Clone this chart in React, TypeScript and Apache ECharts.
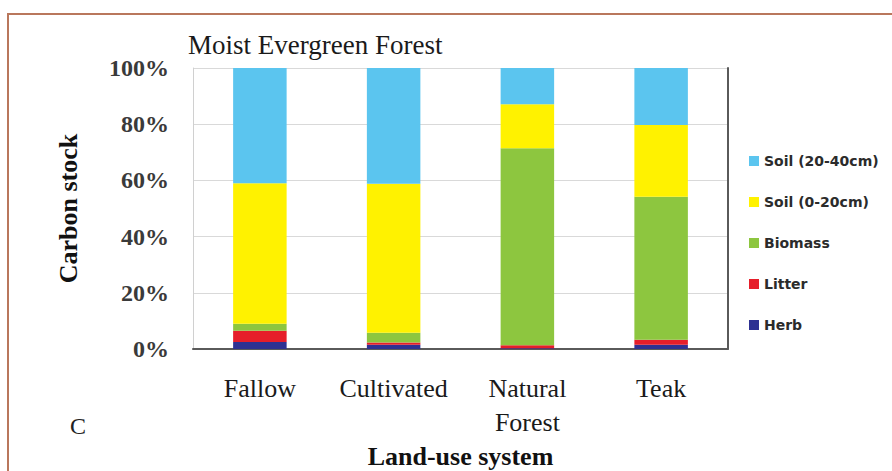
import React, { useEffect, useRef } from "react";
import * as echarts from "echarts";

const categories = ["Fallow", "Cultivated", "Natural\nForest", "Teak"];
const herb = [2.5, 1.5, 0.3, 1.5];
const litter = [4.0, 0.8, 1.0, 1.8];
const biomass = [2.5, 3.5, 70.1, 50.9];
const soil0to20 = [50.0, 53.0, 15.7, 25.5];
const soil20to40 = [41.0, 41.2, 12.9, 20.3];
const yTicks = [0, 20, 40, 60, 80, 100];

const seriesNames = ["Herb", "Litter", "Biomass", "Soil (0-20cm)", "Soil (20-40cm)"];
const seriesData = [herb, litter, biomass, soil0to20, soil20to40];
const seriesColors = ["#2e3192", "#e61e2a", "#8dc63f", "#fff200", "#5bc5ef"];

const SERIF = "'Liberation Serif', 'Times New Roman', serif";

export default function App() {
  const ref = useRef<HTMLDivElement>(null);
  useEffect(() => {
    if (!ref.current) return;
    const chart = echarts.init(ref.current, null, { renderer: "svg" });
    chart.setOption({
      animation: false,
      backgroundColor: "#ffffff",
      title: {
        text: "Moist Evergreen Forest",
        left: 188,
        top: 31,
        padding: 0,
        textStyle: { fontFamily: SERIF, fontSize: 27, fontWeight: "normal", color: "#1a1a1a" },
      },
      legend: {
        orient: "vertical",
        left: 744,
        top: 148,
        itemWidth: 10,
        itemHeight: 10,
        itemGap: 25,
        icon: "rect",
        data: [...seriesNames].reverse(),
        textStyle: {
          fontFamily: "'DejaVu Sans', sans-serif",
          fontWeight: "bold",
          fontSize: 14,
          lineHeight: 16,
          color: "#2b2b2b",
        },
      },
      grid: {
        left: 193,
        right: 164,
        top: 68,
        bottom: 122,
        containLabel: false,
        outerBoundsMode: "none",
      },
      xAxis: [
        {
          type: "category",
          data: categories,
          axisTick: { show: false },
          axisLine: { show: true, lineStyle: { color: "#d0d0d0", width: 1 } },
          axisLabel: {
            interval: 0,
            margin: 22,
            fontFamily: SERIF,
            fontSize: 26,
            lineHeight: 34,
            color: "#1a1a1a",
          },
          name: "Land-use system",
          nameLocation: "middle",
          nameGap: 89,
          nameTextStyle: { fontFamily: SERIF, fontSize: 26, fontWeight: "bold", color: "#111" },
        },
        {
          type: "category",
          position: "top",
          data: categories,
          axisTick: { show: false },
          axisLabel: { show: false },
          axisLine: { show: true, lineStyle: { color: "#5a5a5a", width: 2 } },
        },
      ],
      yAxis: [
        {
          type: "value",
          min: yTicks[0],
          max: yTicks[yTicks.length - 1],
          interval: 20,
          axisLine: { show: true, lineStyle: { color: "#d0d0d0", width: 1 } },
          axisTick: { show: false },
          splitLine: { show: true, lineStyle: { color: "#d9d9d9", width: 1 } },
          axisLabel: {
            margin: 24,
            formatter: "{value}%",
            fontFamily: SERIF,
            fontSize: 24,
            fontWeight: "bold",
            color: "#3a3a3a",
          },
          name: "Carbon stock",
          nameLocation: "middle",
          nameGap: 112,
          nameTextStyle: { fontFamily: SERIF, fontSize: 26, fontWeight: "bold", color: "#111" },
        },
        {
          type: "value",
          position: "right",
          min: 0,
          max: 100,
          interval: 20,
          axisLine: { show: true, lineStyle: { color: "#5a5a5a", width: 2 } },
          axisTick: { show: false },
          axisLabel: { show: false },
          splitLine: { show: false },
        },
      ],
      series: seriesNames.map((name, i) => ({
        name,
        type: "bar",
        stack: "total",
        barWidth: "40%",
        data: seriesData[i],
        itemStyle: { color: seriesColors[i] },
      })),
      graphic: [
        {
          type: "rect",
          shape: { x: 8, y: 14, width: 1000, height: 1000 },
          style: { fill: "none", stroke: "#b9775c", lineWidth: 2 },
          silent: true,
        },
        {
          type: "text",
          x: 78,
          y: 426,
          style: {
            text: "C",
            fontFamily: SERIF,
            fontSize: 24,
            fill: "#222",
            align: "center",
            verticalAlign: "middle",
          },
        },
      ],
    });
    return () => chart.dispose();
  }, []);
  return (
    <div
      ref={ref}
      style={{ position: "fixed", left: 0, top: 0, width: 892, height: 471, background: "#fff" }}
    />
  );
}
